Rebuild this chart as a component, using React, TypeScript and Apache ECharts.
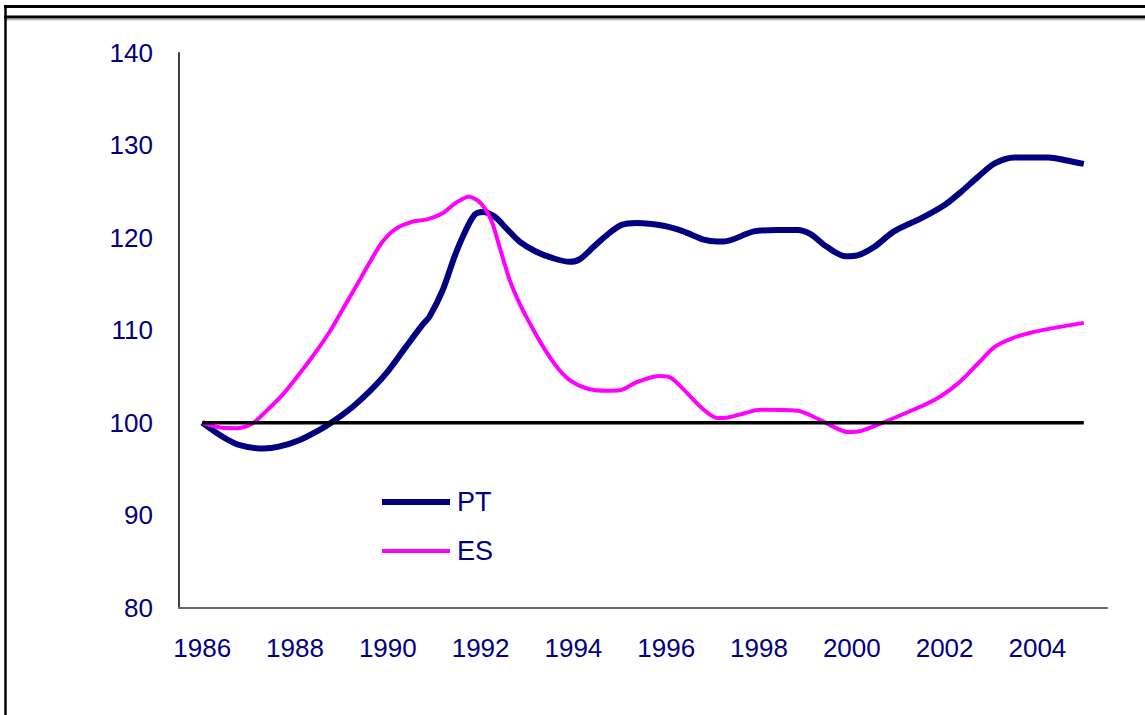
import React, { useEffect, useRef } from "react";
import * as echarts from "echarts";

const X_LABELS = [1986, 1988, 1990, 1992, 1994, 1996, 1998, 2000, 2002, 2004];
const Y_TICKS = [80, 90, 100, 110, 120, 130, 140];

const PT_YEARS = [
  1986.0, 1986.43, 1986.79, 1987.33, 1987.65, 1988.09, 1988.52, 1988.81, 1989.24, 1989.6,
  1989.96, 1990.39, 1990.75, 1990.9, 1991.18, 1991.44, 1991.65, 1991.87, 1992.05, 1992.3,
  1992.56, 1992.84, 1993.2, 1993.56, 1993.92, 1994.14, 1994.43, 1994.72, 1995.04, 1995.37,
  1995.94, 1996.37, 1996.81, 1997.1, 1997.24, 1997.89, 1998.39, 1998.83, 1999.11, 1999.47,
  1999.87, 2000.12, 2000.48, 2000.91, 2001.49, 2002.0, 2002.36, 2002.72, 2003.08, 2003.51,
  2003.87, 2004.24, 2004.6, 2005.0,
];
const PT_VALUES = [
  100.0, 98.5, 97.6, 97.2, 97.4, 98.1, 99.2, 100.1, 101.7, 103.35,
  105.3, 108.2, 110.6, 111.5, 114.3, 118.0, 120.5, 122.5, 122.8, 122.3,
  121.0, 119.6, 118.5, 117.8, 117.4, 117.7, 119.0, 120.3, 121.4, 121.6,
  121.3, 120.7, 119.8, 119.6, 119.6, 120.7, 120.85, 120.85, 120.4, 119.0,
  118.0, 118.1, 119.0, 120.7, 122.1, 123.55, 125.0, 126.6, 128.06, 128.7,
  128.7, 128.7, 128.4, 128.0,
];

const ES_YEARS = [
  1986.0, 1986.36, 1986.75, 1987.08, 1987.37, 1987.73, 1988.02, 1988.37, 1988.73, 1989.02,
  1989.31, 1989.6, 1989.89, 1990.18, 1990.54, 1990.85, 1991.18, 1991.47, 1991.75, 1992.01,
  1992.23, 1992.41, 1992.63, 1992.84, 1993.06, 1993.35, 1993.64, 1993.92, 1994.29, 1994.72,
  1995.0, 1995.37, 1995.87, 1996.09, 1996.45, 1996.81, 1997.1, 1997.24, 1997.67, 1998.03,
  1998.83, 1999.11, 1999.47, 1999.91, 2000.19, 2000.62, 2001.05, 2001.78, 2002.29, 2002.72,
  2003.08, 2003.44, 2003.83, 2004.3, 2005.0,
];
const ES_VALUES = [
  100.0, 99.5, 99.4, 99.9, 101.2, 103.0, 104.8, 107.1, 109.7, 112.2,
  114.7, 117.25, 119.6, 121.0, 121.75, 122.0, 122.65, 123.8, 124.45, 123.7,
  121.9, 119.0, 115.4, 112.9, 110.75, 108.2, 106.05, 104.6, 103.7, 103.45,
  103.5, 104.4, 105.05, 104.9, 103.2, 101.4, 100.5, 100.5, 101.0, 101.4,
  101.3, 100.8, 99.9, 99.0, 99.1, 99.9, 100.8, 102.45, 104.25, 106.4,
  108.2, 109.1, 109.7, 110.2, 110.8,
];

const BASE_YEARS = [1986, 2005];
const BASE_VALUES = [100, 100];

const pairs = (xs: number[], ys: number[]) => xs.map((x, i) => [x, ys[i]]);

const FONT = "'Liberation Sans', Arial, sans-serif";
const NAVY = "#000080";
const MAGENTA = "#ff00ff";

export default function App() {
  const ref = useRef<HTMLDivElement>(null);

  useEffect(() => {
    if (!ref.current) return;
    const chart = echarts.init(ref.current, undefined, { renderer: "svg" });
    chart.setOption({
      animation: false,
      backgroundColor: "#ffffff",
      grid: { left: 179, top: 53, right: 38, bottom: 107.5, containLabel: false },
      xAxis: {
        type: "value",
        min: 1985.5,
        max: 2005.5,
        axisLine: { show: true, onZero: false, lineStyle: { color: "#666666", width: 2 } },
        axisTick: { show: false },
        splitLine: { show: false },
        axisLabel: {
          customValues: X_LABELS,
          formatter: (v: number) => String(v),
          color: NAVY,
          fontSize: 26,
          fontFamily: FONT,
          margin: 27,
        },
      },
      yAxis: {
        type: "value",
        min: Y_TICKS[0],
        max: Y_TICKS[Y_TICKS.length - 1],
        interval: 10,
        axisLine: { show: true, lineStyle: { color: "#404040", width: 2 } },
        axisTick: { show: false },
        splitLine: { show: false },
        axisLabel: {
          color: NAVY,
          fontSize: 26,
          fontFamily: FONT,
          margin: 26,
        },
      },
      legend: {
        data: [
          { name: "PT", icon: "path://M0,0 L68,0 L68,6 L0,6 Z", itemStyle: { color: NAVY } },
          { name: "ES", icon: "path://M0,0 L68,0 L68,4 L0,4 Z", itemStyle: { color: MAGENTA } },
        ],
        orient: "vertical",
        left: 382,
        top: 488.5,
        padding: 0,
        itemWidth: 68,
        itemHeight: 14,
        itemGap: 22,
        itemStyle: { borderWidth: 0 },
        textStyle: { color: NAVY, fontSize: 27, fontFamily: FONT, padding: [0, 0, 0, 2] },
      },
      series: [
        {
          name: "PT",
          type: "line",
          data: pairs(PT_YEARS, PT_VALUES),
          symbol: "none",
          smooth: 0.3,
          lineStyle: { color: NAVY, width: 6 },
          itemStyle: { color: NAVY },
        },
        {
          name: "ES",
          type: "line",
          data: pairs(ES_YEARS, ES_VALUES),
          symbol: "none",
          smooth: 0.3,
          lineStyle: { color: MAGENTA, width: 4 },
          itemStyle: { color: MAGENTA },
        },
        {
          name: "base",
          type: "line",
          data: pairs(BASE_YEARS, BASE_VALUES),
          symbol: "none",
          silent: true,
          lineStyle: { color: "#000000", width: 3.5 },
          itemStyle: { color: "#000000" },
        },
      ],
      graphic: [
        { type: "line", shape: { x1: 4, y1: 6.5, x2: 1145, y2: 6.5 }, style: { stroke: "#000", lineWidth: 3 } },
        { type: "line", shape: { x1: 4, y1: 17, x2: 1145, y2: 17 }, style: { stroke: "#000", lineWidth: 3 } },
        { type: "line", shape: { x1: 6, y1: 19.5, x2: 1145, y2: 19.5 }, style: { stroke: "#aaaaaa", lineWidth: 1.5 } },
        { type: "line", shape: { x1: 5.5, y1: 5, x2: 5.5, y2: 715 }, style: { stroke: "#000", lineWidth: 2.5 } },
      ],
    });
    return () => chart.dispose();
  }, []);

  return (
    <div
      ref={ref}
      style={{ position: "absolute", left: 0, top: 0, width: 1145, height: 715, background: "#fff" }}
    />
  );
}
